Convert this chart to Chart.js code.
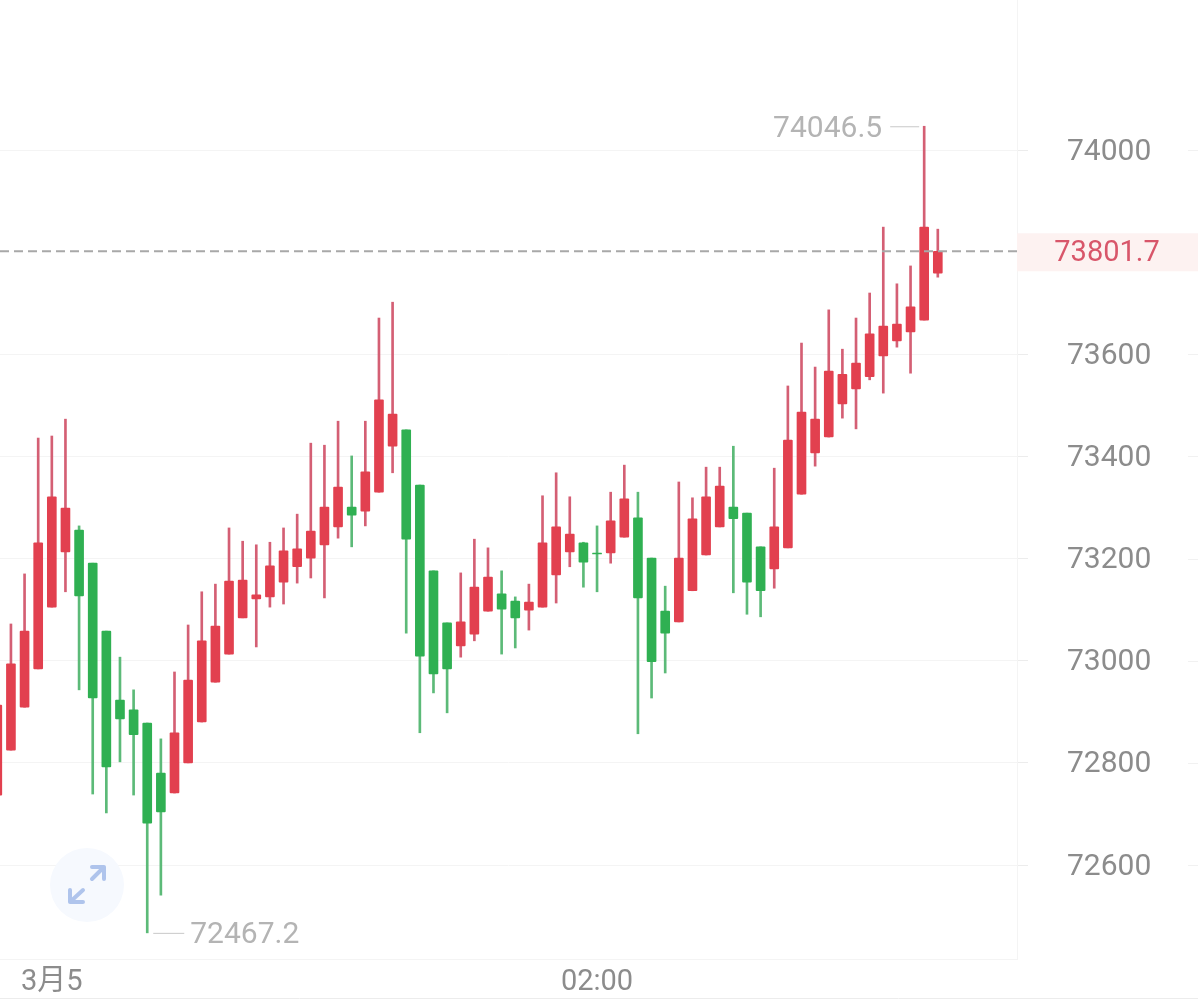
<!DOCTYPE html>
<html>
<head>
<meta charset="utf-8">
<style>html,body{margin:0;padding:0;background:#fff;overflow:hidden}canvas{display:block}</style>
<script src="https://cdn.jsdelivr.net/npm/chart.js@4/dist/chart.umd.min.js"></script>
</head>
<body>
<canvas id="c" width="1198" height="1003"></canvas>
<script>
const opens = [72737,72825,72909,72984,73105,73213,73256,73191,73058,72923,72904,72878,72780,72741,72800,72880,72958,73013,73084,73121,73125,73154,73184,73201,73227,73262,73301,73293,73330,73420,73452,73344,73176,73074,73029,73052,73097,73131,73117,73099,73105,73168,73213,73231,73211,73211,73242,73280,73201,73097,73076,73137,73207,73262,73301,73289,73223,73180,73221,73326,73407,73438,73503,73532,73556,73597,73626,73644,73667,73759];
const closes = [72913,72994,73058,73231,73321,73299,73127,72927,72792,72886,72855,72682,72704,72859,72962,73039,73068,73156,73158,73129,73186,73215,73219,73254,73301,73340,73285,73370,73511,73483,73238,73009,72974,72984,73076,73144,73164,73101,73084,73115,73231,73262,73248,73193,73209,73274,73317,73123,72998,73054,73201,73278,73321,73342,73278,73154,73137,73262,73432,73487,73473,73567,73561,73583,73640,73655,73659,73693,73849,73801.7];
const highs = [72943,73072,73170,73436,73440,73473,73264,73191,73058,73007,72943,72878,72847,72978,73070,73135,73150,73260,73234,73227,73232,73260,73287,73426,73422,73469,73401,73469,73671,73702,73452,73344,73176,73074,73172,73238,73221,73176,73125,73150,73323,73368,73321,73232,73264,73330,73383,73330,73201,73146,73350,73319,73379,73379,73420,73289,73223,73377,73538,73622,73575,73687,73610,73671,73720,73849,73738,73773,74046.5,73845];
const lows = [72727,72825,72909,72984,73105,73135,72943,72739,72702,72802,72737,72467.2,72541,72741,72800,72880,72958,73013,73084,73027,73105,73111,73152,73162,73123,73240,73223,73264,73330,73368,73054,72859,72937,72898,73007,73039,73097,73013,73025,73060,73105,73113,73184,73144,73135,73191,73242,72857,72927,72976,73076,73137,73207,73262,73133,73091,73086,73142,73221,73326,73381,73438,73475,73454,73550,73524,73614,73563,73667,73751];
const yTicks = [72600,72800,73000,73200,73400,73600,74000];
const xTickIndex = [4, 44];
const xTickLabels = ['3月5', '02:00'];
const lastPrice = 73801.7;
const maxHigh = 74046.5, minLow = 72467.2;

const RED = '#e2404f', GREEN = '#2fb052', RED_W = '#d45f74', GREEN_W = '#5cba78';
const FONT = 'Roboto, "Noto Sans CJK SC", sans-serif';
const up = opens.map((o, i) => closes[i] >= o);

const overlay = {
  id: 'overlay',
  beforeDatasetsDraw(chart) {
    const {ctx, scales: {x, y}, chartArea: a} = chart;
    ctx.save();
    ctx.strokeStyle = '#f1f1f1'; ctx.lineWidth = 1;
    yTicks.forEach(v => {
      const py = Math.round(y.getPixelForValue(v)) + .5;
      ctx.beginPath(); ctx.moveTo(1188, py); ctx.lineTo(1198, py); ctx.stroke();
    });
    ctx.strokeStyle = '#ececec';
    ctx.beginPath(); ctx.moveTo(0, 998.5); ctx.lineTo(1198, 998.5); ctx.stroke();
    ctx.fillStyle = '#f6f9fe';
    ctx.beginPath(); ctx.arc(87, 885, 37, 0, Math.PI * 2); ctx.fill();
    ctx.strokeStyle = '#afc4ec'; ctx.lineWidth = 4; ctx.lineCap = 'round'; ctx.lineJoin = 'round';
    ctx.beginPath();
    ctx.moveTo(92, 879); ctx.lineTo(104, 867); ctx.moveTo(92, 867); ctx.lineTo(104, 867); ctx.lineTo(104, 879);
    ctx.moveTo(83, 890); ctx.lineTo(70, 902); ctx.moveTo(70, 890); ctx.lineTo(70, 902); ctx.lineTo(83, 902);
    ctx.stroke();
    ctx.restore();
  },
  afterDatasetsDraw(chart) {
    const {ctx, scales: {x, y}, chartArea: a} = chart;
    ctx.save();
    const lp = y.getPixelForValue(lastPrice);
    ctx.strokeStyle = '#a8a8a8'; ctx.lineWidth = 2; ctx.setLineDash([9, 5]);
    ctx.beginPath(); ctx.moveTo(0, lp); ctx.lineTo(a.right, lp); ctx.stroke();
    ctx.setLineDash([]);
    ctx.fillStyle = '#fdf2f1';
    ctx.fillRect(a.right, lp - 18, 1198 - a.right, 38);
    ctx.fillStyle = '#d8566a'; ctx.font = '29px ' + FONT;
    ctx.textAlign = 'center'; ctx.textBaseline = 'middle';
    ctx.fillText(lastPrice.toFixed(1), 1107, lp + 2);
    ctx.fillStyle = '#b4b4b4'; ctx.font = '30px ' + FONT; ctx.strokeStyle = '#c8c8c8'; ctx.lineWidth = 1;
    const hi = highs.indexOf(maxHigh), lo = lows.indexOf(minLow);
    const hx = x.getPixelForValue(hi), hy = y.getPixelForValue(maxHigh);
    ctx.beginPath(); ctx.moveTo(hx - 34, hy + .5); ctx.lineTo(hx - 5, hy + .5); ctx.stroke();
    ctx.textAlign = 'right';
    ctx.fillText(maxHigh.toFixed(1), hx - 42, hy + 3);
    const lx = x.getPixelForValue(lo), ly = y.getPixelForValue(minLow);
    ctx.beginPath(); ctx.moveTo(lx + 6, ly + .5); ctx.lineTo(lx + 37, ly + .5); ctx.stroke();
    ctx.textAlign = 'left';
    ctx.fillText(minLow.toFixed(1), lx + 43, ly + 3);
    ctx.restore();
  }
};

new Chart(document.getElementById('c'), {
  type: 'bar',
  data: {
    datasets: [
      {
        label: 'body',
        data: opens.map((o, i) => ({x: i, y: [o, closes[i]]})),
        backgroundColor: up.map(u => u ? RED : GREEN),
        barThickness: 9, borderRadius: 1, borderSkipped: false, borderWidth: 0, grouped: false, order: 1
      },
      {
        label: 'wick',
        data: lows.map((l, i) => ({x: i, y: [l, highs[i]]})),
        backgroundColor: up.map(u => u ? RED_W : GREEN_W),
        barThickness: 2, borderRadius: 0, borderSkipped: false, borderWidth: 0, grouped: false, order: 2
      }
    ]
  },
  options: {
    responsive: false,
    animation: false,
    events: [],
    layout: {padding: 0, autoPadding: false},
    plugins: {legend: {display: false}, tooltip: {enabled: false}, title: {display: false}},
    scales: {
      x: {
        type: 'linear', offset: false, bounds: 'data',
        min: 0.198, max: 74.81,
        afterBuildTicks(s) { s.ticks = xTickIndex.map(v => ({value: v})); },
        afterFit(s) { s.height = 44; s.paddingLeft = 0; s.paddingRight = 0; },
        grid: {display: false, drawTicks: false},
        border: {display: true, color: '#f4f4f4', width: 1},
        ticks: {
          autoSkip: false, maxRotation: 0, padding: 6, color: '#8c8c8c',
          font: {family: FONT, size: 29},
          callback(v) { const k = xTickIndex.indexOf(v); return k >= 0 ? xTickLabels[k] : ''; }
        }
      },
      y: {
        type: 'linear', position: 'right', bounds: 'data',
        min: 72416, max: 74293.7,
        afterBuildTicks(s) { s.ticks = yTicks.map(v => ({value: v})); },
        afterFit(s) { s.width = 181; s.paddingTop = 0; s.paddingBottom = 0; },
        grid: {color: '#f4f4f4', lineWidth: 1, tickLength: 11, tickColor: '#ececec', drawOnChartArea: true},
        border: {display: true, color: '#f4f4f4', width: 1},
        ticks: {
          autoSkip: false, padding: 39, labelOffset: 2, color: '#8c8c8c',
          font: {family: FONT, size: 30},
          callback(v) { return String(v); }
        }
      }
    }
  },
  plugins: [overlay]
});
</script>
</body>
</html>
